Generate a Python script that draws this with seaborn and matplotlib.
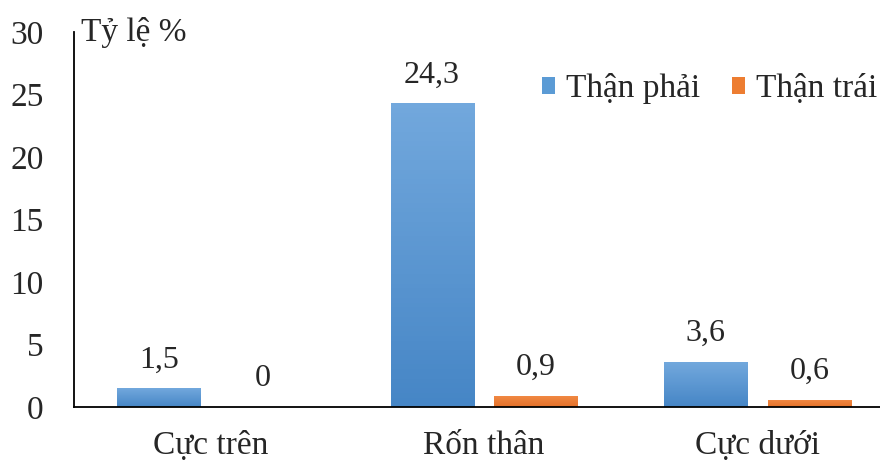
import numpy as np
import pandas as pd
import matplotlib
matplotlib.use("Agg")
import matplotlib.pyplot as plt
from matplotlib.patches import Patch
from matplotlib.colors import LinearSegmentedColormap
import seaborn as sns

# Data
categories = ["Cực trên", "Rốn thân", "Cực dưới"]
series_names = ["Thận phải", "Thận trái"]
than_phai = [1.5, 24.3, 3.6]
than_trai = [0, 0.9, 0.6]
y_ticks = [0, 5, 10, 15, 20, 25, 30]

df = pd.DataFrame({
    "vi_tri": categories * 2,
    "than": [series_names[0]] * 3 + [series_names[1]] * 3,
    "ty_le": than_phai + than_trai,
})

sns.set_theme(style="white")
plt.rcParams["font.family"] = ["Liberation Serif", "DejaVu Serif"]

blue = "#5B9BD5"
orange = "#ED7D31"
grad = {
    blue: ("#72a8dd", "#4686c6"),
    orange: ("#f28a45", "#e4722a"),
}
FS = 24

fig = plt.figure(figsize=(8.8, 4.61), dpi=100)
ax = fig.add_axes([0.0841, 0.1171, 0.9318, 0.8134])

sns.barplot(data=df, x="vi_tri", y="ty_le", hue="than", order=categories,
            hue_order=series_names, palette=[blue, orange], width=0.76,
            gap=0.2, saturation=1, legend=False, ax=ax)

ax.set_xlim(-0.5, 2.5)
ax.set_ylim(0, 30)
ax.set_yticks(y_ticks)
ax.set_yticklabels([str(t) for t in y_ticks], fontsize=FS)
ax.tick_params(axis="y", length=0, pad=22)
ax.tick_params(axis="x", length=0, pad=17, labelsize=FS)
ax.set_xlabel("")
ax.set_ylabel("")
for side in ["top", "right"]:
    ax.spines[side].set_visible(False)
for side in ["left", "bottom"]:
    ax.spines[side].set_color("black")
    ax.spines[side].set_linewidth(1.3)

# Value labels with comma decimal separator
for cont, vals in zip(ax.containers, [than_phai, than_trai]):
    labels = [f"{v:g}".replace(".", ",") for v in vals]
    ax.bar_label(cont, labels=labels, padding=10, fontsize=23)

# Vertical gradient fill for each bar
for cont, col in zip(ax.containers, [blue, orange]):
    cmap = LinearSegmentedColormap.from_list("g", [grad[col][1], grad[col][0]])
    for p in cont.patches:
        h = p.get_height()
        if h <= 0:
            continue
        x0, w = p.get_x(), p.get_width()
        img = ax.imshow(np.linspace(0, 1, 64).reshape(-1, 1), cmap=cmap,
                        extent=[x0, x0 + w, 0, h], origin="lower",
                        aspect="auto", zorder=p.get_zorder())
        img.set_clip_path(p)
        p.set_facecolor("none")
        p.set_edgecolor("none")
ax.set_xlim(-0.5, 2.5)
ax.set_ylim(0, 30)

ax.text(0.009, 1.0, "Tỷ lệ %", transform=ax.transAxes, fontsize=FS,
        ha="left", va="center")

handles = [Patch(facecolor=blue, edgecolor="none"),
           Patch(facecolor=orange, edgecolor="none")]
fig.legend(handles, series_names, loc="center right",
           bbox_to_anchor=(1.031, 0.808), ncol=2, frameon=False, fontsize=FS,
           handlelength=0.4, handleheight=0.4, handletextpad=0.32,
           columnspacing=0.96)

fig.savefig("out.png", dpi=100)
